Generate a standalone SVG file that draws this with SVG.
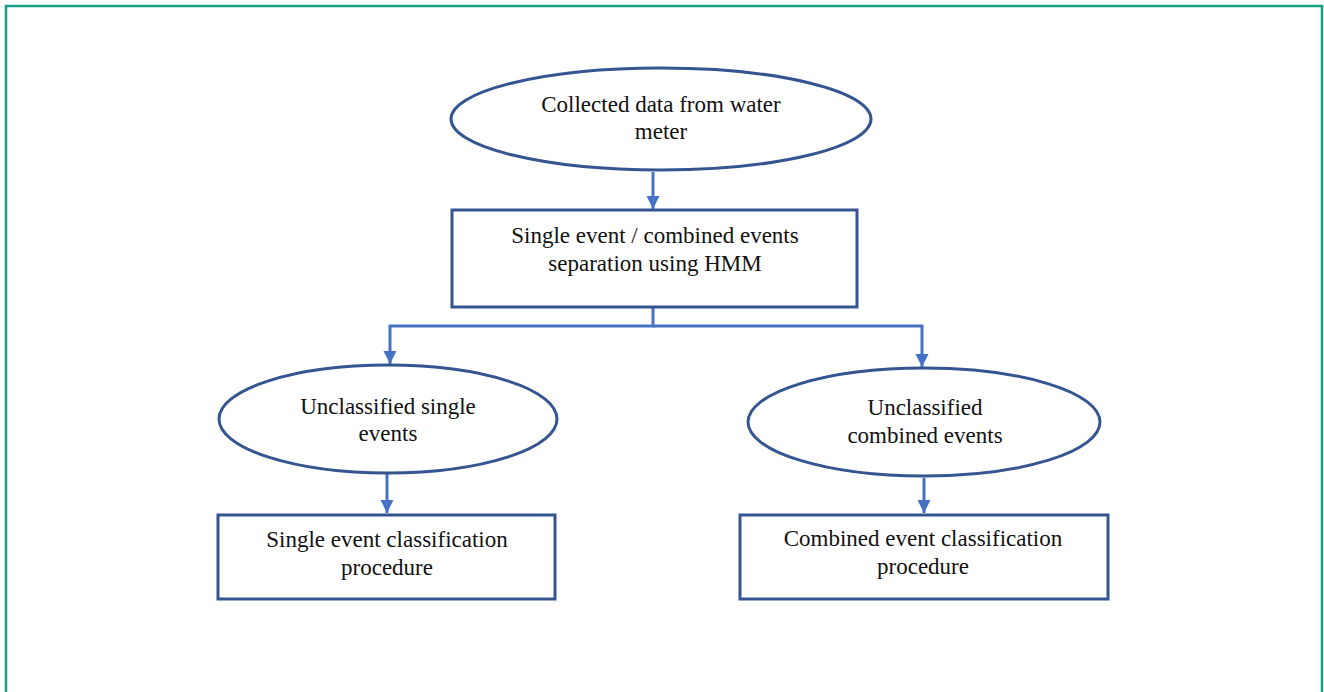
<svg xmlns="http://www.w3.org/2000/svg" width="1324" height="692" viewBox="0 0 1324 692">
<style>
.shape{fill:#fff;stroke:#34558F;stroke-width:3}
.conn{fill:none;stroke:#4472C4;stroke-width:3}
text{font-family:"Liberation Serif","Times New Roman",serif;font-size:23px;fill:#111;text-anchor:middle}
</style>
<defs>
<marker id="arr" viewBox="0 0 10 10" refX="10" refY="5" markerWidth="4.5" markerHeight="4.5" markerUnits="strokeWidth" orient="auto">
<path d="M0,0 L10,5 L0,10 z" fill="#4472C4"/>
</marker>
</defs>
<rect x="0" y="0" width="1324" height="692" fill="#fff"/>
<rect x="6" y="6" width="1316" height="720" fill="none" stroke="#16A085" stroke-width="2.5"/>
<g id="connectors">
<path class="conn" d="M653,172 V209" marker-end="url(#arr)"/>
<path class="conn" d="M653,308 V326 H390 V364" marker-end="url(#arr)"/>
<path class="conn" d="M653,326 H922 V367" marker-end="url(#arr)"/>
<path class="conn" d="M387,474 V513" marker-end="url(#arr)"/>
<path class="conn" d="M924,478 V513" marker-end="url(#arr)"/>
</g>
<g id="n1">
<ellipse class="shape" cx="661" cy="119" rx="210" ry="51"/>
<text x="661" y="112">Collected data from water</text>
<text x="661" y="139">meter</text>
</g>
<g id="n2">
<rect class="shape" x="452" y="210" width="405" height="97"/>
<text x="655" y="243">Single event / combined events</text>
<text x="655" y="271">separation using HMM</text>
</g>
<g id="n3">
<ellipse class="shape" cx="388" cy="419" rx="169" ry="54"/>
<text x="388" y="414">Unclassified single</text>
<text x="388" y="441">events</text>
</g>
<g id="n4">
<ellipse class="shape" cx="924" cy="422" rx="176" ry="54"/>
<text x="925" y="415">Unclassified</text>
<text x="925" y="443">combined events</text>
</g>
<g id="n5">
<rect class="shape" x="218" y="515" width="337" height="84"/>
<text x="387" y="547">Single event classification</text>
<text x="387" y="575">procedure</text>
</g>
<g id="n6">
<rect class="shape" x="740" y="515" width="368" height="84"/>
<text x="923" y="546">Combined event classification</text>
<text x="923" y="574">procedure</text>
</g>
</svg>
